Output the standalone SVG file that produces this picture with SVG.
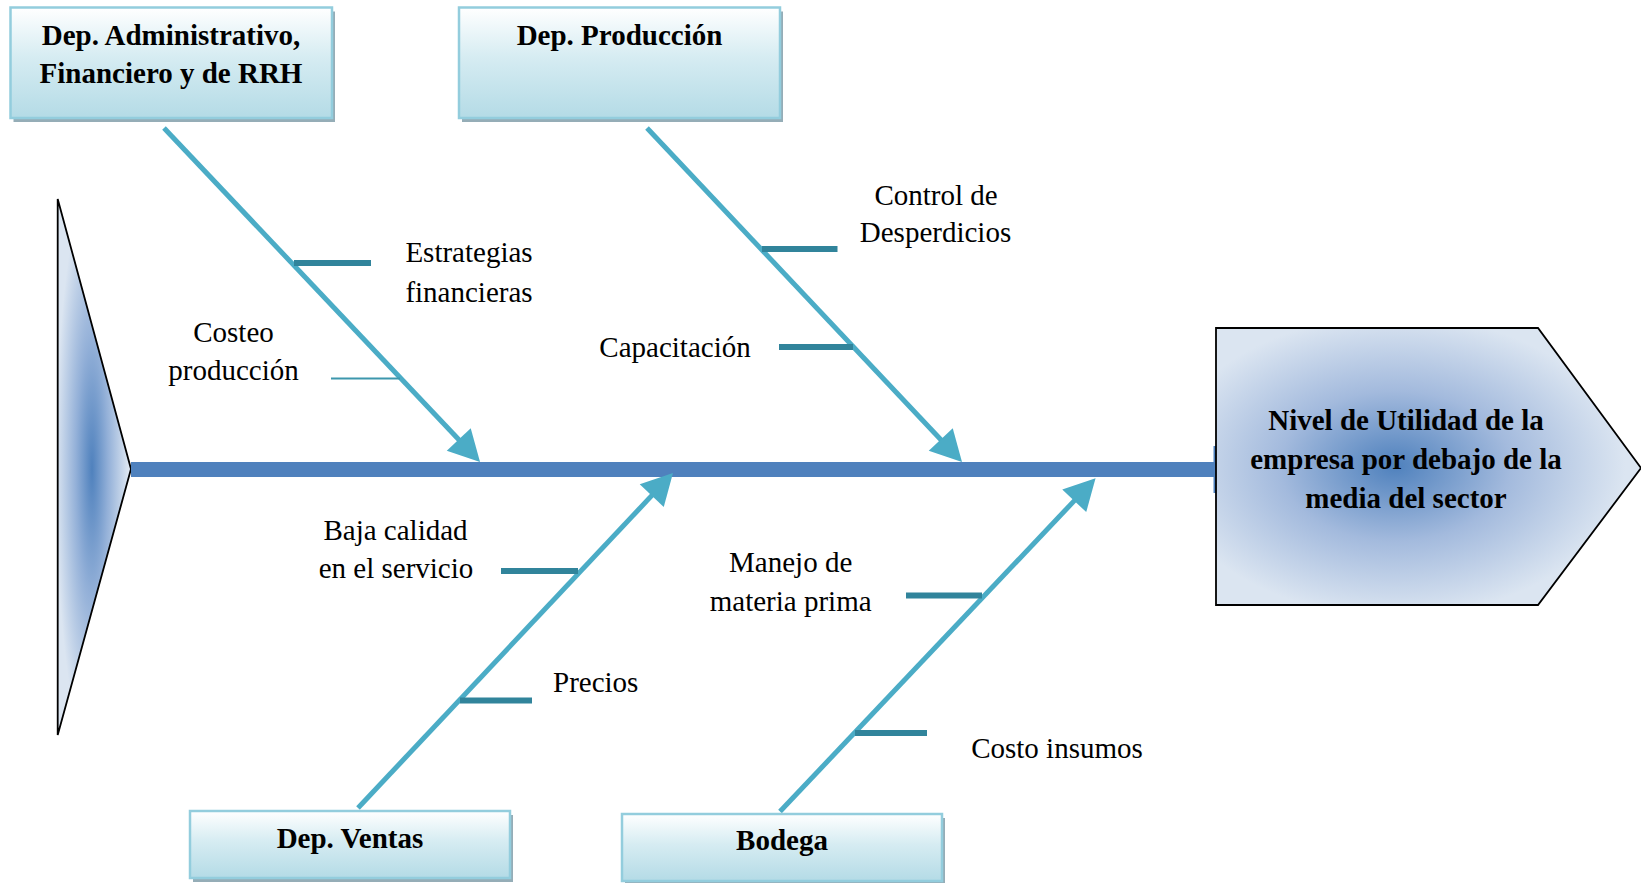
<svg xmlns="http://www.w3.org/2000/svg" width="1641" height="883" viewBox="0 0 1641 883">
<style>
.box{fill:url(#boxg);stroke:#93cddd;stroke-width:2.5}
.shadow{fill:#95adb7}
.bone{stroke:#4bacc6;stroke-width:5;fill:none;marker-end:url(#ah)}
.sub{stroke:#31849b;stroke-width:6}
.thin{stroke:#3d97ad;stroke-width:2}
.t{font-family:"Liberation Serif","Times New Roman",serif;font-size:29px;fill:#000;text-anchor:middle}
.b{font-weight:bold}
</style>
<defs>
<linearGradient id="boxg" x1="0" y1="0" x2="0" y2="1">
<stop offset="0" stop-color="#ffffff"/>
<stop offset="0.45" stop-color="#d6ecf2"/>
<stop offset="1" stop-color="#b4dbe6"/>
</linearGradient>
<radialGradient id="tailg" gradientUnits="userSpaceOnUse" cx="92" cy="469" r="1" gradientTransform="translate(92 469) scale(36 280) translate(-92 -469)">
<stop offset="0" stop-color="#4f81bd"/>
<stop offset="0.45" stop-color="#93b0d8"/>
<stop offset="1" stop-color="#dbe5f1"/>
</radialGradient>
<radialGradient id="headg" gradientUnits="userSpaceOnUse" cx="1395" cy="466" r="1" gradientTransform="translate(1395 466) scale(230 150) translate(-1395 -466)">
<stop offset="0" stop-color="#4f81bd"/>
<stop offset="0.5" stop-color="#a3badd"/>
<stop offset="1" stop-color="#dbe5f1"/>
</radialGradient>
<marker id="ah" viewBox="-4 -17 33 34" refX="0" refY="0" markerWidth="33" markerHeight="34" markerUnits="userSpaceOnUse" orient="auto">
<path d="M28,0 L-3,-16.5 L-3,16.5 z" fill="#4bacc6"/>
</marker>
</defs>

<g id="tail">
<polygon points="57.7,199 131,469 57.7,735" fill="url(#tailg)" stroke="#000" stroke-width="1.8"/>
</g>

<g id="spine">
<rect x="131" y="462" width="1085" height="15" fill="#4f81bd"/>
<rect x="1213.5" y="446" width="2.5" height="47" fill="#4f81bd"/>
</g>

<g id="head">
<polygon points="1216,328 1538,328 1641,468 1538,605 1216,605" fill="url(#headg)" stroke="#000" stroke-width="1.8"/>
<text class="t b" x="1406" y="430">Nivel de Utilidad de la</text>
<text class="t b" x="1406" y="469">empresa por debajo de la</text>
<text class="t b" x="1406" y="508">media del sector</text>
</g>

<g id="connectors">
<line class="bone" x1="164" y1="128" x2="460.8" y2="441.7"/>
<line class="bone" x1="647" y1="128" x2="942.8" y2="441.7"/>
<line class="bone" x1="358" y1="808" x2="653.8" y2="493.4"/>
<line class="bone" x1="780" y1="811.5" x2="1076.3" y2="498.6"/>
<line class="sub" x1="294" y1="263" x2="371" y2="263"/>
<line class="thin" x1="331" y1="378.5" x2="400" y2="378.5"/>
<line class="sub" x1="762" y1="249" x2="837.5" y2="249"/>
<line class="sub" x1="779" y1="347" x2="853" y2="347"/>
<line class="sub" x1="501" y1="571" x2="578" y2="571"/>
<line class="sub" x1="460" y1="700.5" x2="532" y2="700.5"/>
<line class="sub" x1="906" y1="595.5" x2="982" y2="595.5"/>
<line class="sub" x1="855" y1="733" x2="927" y2="733"/>
</g>

<g id="box-admin">
<rect class="shadow" x="13.5" y="11.5" width="321.5" height="110.5"/>
<rect class="box" x="10.5" y="7.5" width="321.5" height="110.5"/>
<text class="t b" x="171" y="45">Dep. Administrativo,</text>
<text class="t b" x="171" y="83">Financiero y de RRH</text>
</g>

<g id="box-produccion">
<rect class="shadow" x="462" y="11.5" width="321" height="110.5"/>
<rect class="box" x="459" y="7.5" width="321" height="110.5"/>
<text class="t b" x="619.5" y="45">Dep. Producción</text>
</g>

<g id="box-ventas">
<rect class="shadow" x="193" y="815" width="320" height="67"/>
<rect class="box" x="190" y="811" width="320" height="67"/>
<text class="t b" x="350" y="848">Dep. Ventas</text>
</g>

<g id="box-bodega">
<rect class="shadow" x="625" y="818" width="320" height="67"/>
<rect class="box" x="622" y="814" width="320" height="67"/>
<text class="t b" x="782" y="850">Bodega</text>
</g>

<g id="labels">
<text class="t" x="469" y="262">Estrategias</text>
<text class="t" x="469" y="301.5">financieras</text>
<text class="t" x="233.5" y="341.5">Costeo</text>
<text class="t" x="233.5" y="380">producción</text>
<text class="t" x="936" y="205">Control de</text>
<text class="t" x="935.5" y="242">Desperdicios</text>
<text class="t" x="675" y="357">Capacitación</text>
<text class="t" x="395.5" y="540">Baja calidad</text>
<text class="t" x="396" y="578">en el servicio</text>
<text class="t" x="595.7" y="692">Precios</text>
<text class="t" x="790.7" y="571.5">Manejo de</text>
<text class="t" x="790.7" y="610.5">materia prima</text>
<text class="t" x="1057" y="758">Costo insumos</text>
</g>
</svg>
